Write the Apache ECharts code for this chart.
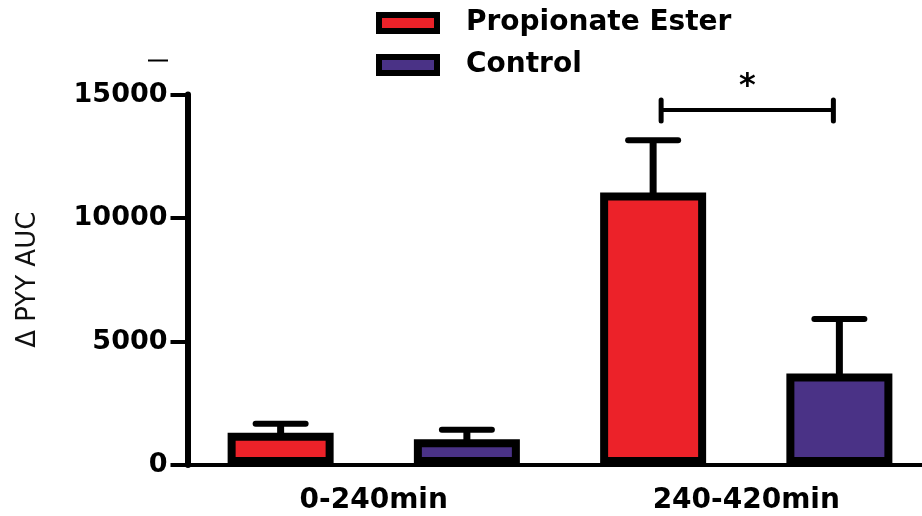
<!DOCTYPE html>
<html><head><meta charset="utf-8">
<script src="https://cdn.jsdelivr.net/npm/echarts@6/dist/echarts.min.js"></script>
<style>html,body{margin:0;padding:0;background:#fff;overflow:hidden;width:922px;height:516px}#c{width:936px;height:516px}</style>
</head><body><div id="c"></div>
<script>
// ---- data ----
const periods = ['0-240min', '240-420min'];
const seriesNames = ['Propionate Ester', 'Control'];
const propionateMean = [1310, 11030];
const propionateSem = [360, 2120];
const controlMean = [1040, 3700];
const controlSem = [390, 2210];
const yTicks = [0, 5000, 10000, 15000];
const significance = [[2, 3, 14370]]; // bracket between bar slot 2 and 3
const significanceLabel = '*';

// ---- build library structures ----
const slots = [];
periods.forEach(p => seriesNames.forEach(s => slots.push(p + ' ' + s)));
const peData = slots.map((_, i) => i % 2 === 0 ? propionateMean[i >> 1] : '-');
const ctlData = slots.map((_, i) => i % 2 === 1 ? controlMean[i >> 1] : '-');
const errData = [];
periods.forEach((p, k) => {
  errData.push([2 * k, propionateMean[k], propionateMean[k] + propionateSem[k]]);
  errData.push([2 * k + 1, controlMean[k], controlMean[k] + controlSem[k]]);
});

const FONT = 'DejaVu Sans';
const chart = echarts.init(document.getElementById('c'), null, {renderer: 'canvas'});
chart.setOption({
  animation: false,
  backgroundColor: '#fff',
  grid: {left: 187.5, top: 94.5, width: 745, height: 370.5, containLabel: false},
  legend: {
    orient: 'vertical', left: 376, top: 8, padding: 0,
    itemWidth: 58, itemHeight: 16, itemGap: 12, icon: 'rect',
    itemStyle: {borderColor: '#000', borderWidth: 6},
    textStyle: {fontFamily: FONT, fontSize: 28, fontWeight: 'bold', color: '#000', lineHeight: 30, padding: [0, 0, 0, 24]},
    data: seriesNames
  },
  xAxis: [
    {
      type: 'category', data: slots, position: 'bottom',
      axisLine: {lineStyle: {color: '#000', width: 4}},
      axisTick: {alignWithLabel: true, length: 11, lineStyle: {color: '#000', width: 4}},
      axisLabel: {show: false}, splitLine: {show: false}
    },
    {
      type: 'category', data: periods, position: 'bottom',
      axisLine: {show: false}, axisTick: {show: false}, splitLine: {show: false},
      axisLabel: {margin: 22, fontFamily: FONT, fontSize: 28, fontWeight: 'bold', color: '#000'}
    }
  ],
  yAxis: {
    type: 'value', min: yTicks[0], max: yTicks[yTicks.length - 1], interval: yTicks[1] - yTicks[0],
    name: 'Δ PYY AUC', nameLocation: 'middle', nameRotate: 90, nameGap: 146,
    nameTextStyle: {fontFamily: FONT, fontSize: 26, color: '#111'},
    axisLine: {show: true, lineStyle: {color: '#000', width: 6}},
    axisTick: {show: true, length: 17, lineStyle: {color: '#000', width: 4}},
    axisLabel: {margin: 20, fontFamily: FONT, fontSize: 27, fontWeight: 'bold', color: '#000',
      formatter: v => String(v)},
    splitLine: {show: false}
  },
  graphic: [
    {type: 'rect', left: 148, top: 59.5, shape: {width: 20, height: 2}, style: {fill: '#000'}}
  ],
  series: [
    {
      name: seriesNames[0], type: 'bar', xAxisIndex: 0, data: peData,
      barWidth: 106, barGap: '-100%',
      itemStyle: {color: '#EC2229', borderColor: '#000', borderWidth: 8}
    },
    {
      name: seriesNames[1], type: 'bar', xAxisIndex: 0, data: ctlData,
      barWidth: 106, barGap: '-100%',
      itemStyle: {color: '#4A3286', borderColor: '#000', borderWidth: 8}
    },
    {
      type: 'custom', xAxisIndex: 0, data: errData, z: 3,
      encode: {x: 0, y: [1, 2]},
      renderItem: function (params, api) {
        const x = api.value(0);
        const base = api.coord([x, api.value(1)]);
        const top = api.coord([x, api.value(2)]);
        return {type: 'group', children: [
          {type: 'line', shape: {x1: base[0], y1: base[1] + 4, x2: top[0], y2: top[1]}, style: {stroke: '#000', lineWidth: 7}},
          {type: 'line', shape: {x1: top[0] - 25, y1: top[1], x2: top[0] + 25, y2: top[1]}, style: {stroke: '#000', lineWidth: 6, lineCap: 'round'}}
        ]};
      }
    },
    {
      type: 'custom', xAxisIndex: 0, data: significance, z: 3,
      encode: {x: [0, 1], y: 2},
      renderItem: function (params, api) {
        const a = api.coord([api.value(0), api.value(2)]);
        const b = api.coord([api.value(1), api.value(2)]);
        const x1 = a[0] + 8, x2 = b[0] - 6, y = a[1];
        return {type: 'group', children: [
          {type: 'line', shape: {x1: x1, y1: y, x2: x2, y2: y}, style: {stroke: '#000', lineWidth: 4}},
          {type: 'line', shape: {x1: x1, y1: y - 10, x2: x1, y2: y + 11}, style: {stroke: '#000', lineWidth: 5, lineCap: 'round'}},
          {type: 'line', shape: {x1: x2, y1: y - 10, x2: x2, y2: y + 11}, style: {stroke: '#000', lineWidth: 5, lineCap: 'round'}},
          {type: 'text', style: {text: significanceLabel, x: (x1 + x2) / 2, y: y - 23,
            align: 'center', verticalAlign: 'middle', fontFamily: FONT, fontSize: 32, fontWeight: 'bold', fill: '#000'}}
        ]};
      }
    }
  ]
});
</script>
</body></html>
